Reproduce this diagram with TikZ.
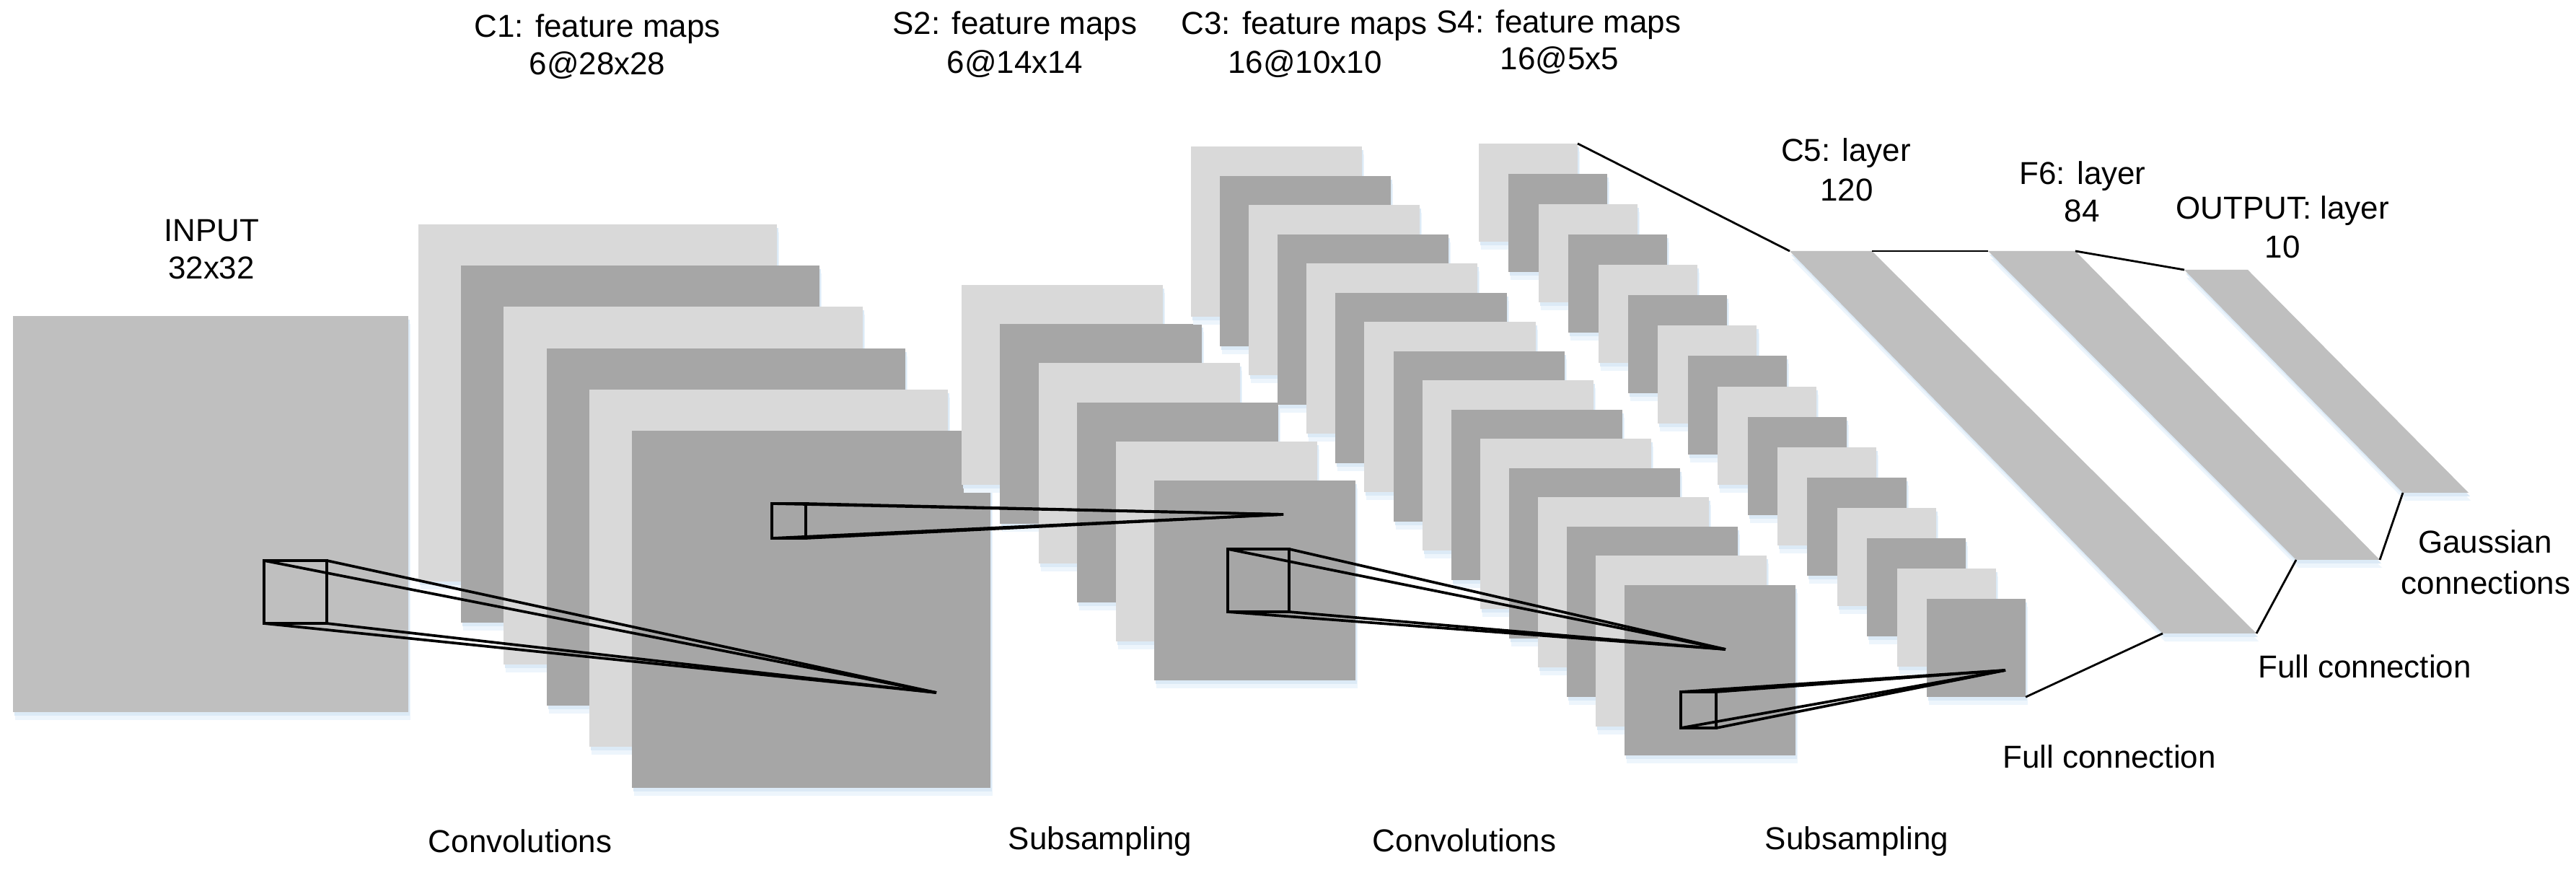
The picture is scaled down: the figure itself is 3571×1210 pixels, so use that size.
\documentclass[tikz,border=0pt]{standalone}
\usepackage{fontspec}
\setmainfont{Liberation Sans}
\definecolor{lightmap}{HTML}{D9D9D9}
\definecolor{darkmap}{HTML}{A6A6A6}
\definecolor{midmap}{HTML}{BFBFBF}
\definecolor{shadowA}{HTML}{EDF5FC}
\definecolor{shadowB}{HTML}{DCEAF6}
\tikzset{
  shadowed/.style={
    preaction={fill=shadowA, draw=none, transform canvas={shift={(0.03cm,-0.11cm)}}},
    preaction={fill=shadowB, draw=none, transform canvas={shift={(0.02cm,-0.05cm)}}}},
  fmap/.style={shadowed, draw=none, inner sep=0pt, outer sep=0pt, anchor=north west},
  kbox/.style={draw=black, line width=0.95pt, inner sep=0pt, outer sep=0pt, anchor=north west},
  kern/.style={line width=1.05pt},
  conn/.style={line width=0.8pt},
  lbl/.style={font=\fontsize{12.5}{15}\selectfont, anchor=base, inner sep=0pt}
}
\begin{document}
\begin{tikzpicture}[x=0.01cm, y=-0.01cm]
\useasboundingbox (0,0) rectangle (3571,1210);
\fill[white] (0,0) rectangle (3571,1210);

% INPUT
\node[fmap, fill=midmap, minimum width=5.48cm, minimum height=5.49cm] (input) at (18,438) {};

% C1 feature maps
\foreach \i in {0,...,5} {
  \pgfmathsetmacro\mx{580+59.2*\i}
  \pgfmathsetmacro\my{311+57.2*\i}
  \ifodd\i \def\mc{darkmap}\else \def\mc{lightmap}\fi
  \node[fmap, fill=\mc, minimum width=4.97cm, minimum height=4.95cm] (c1-\i) at (\mx,\my) {};
}
% S2 feature maps
\foreach \i in {0,...,5} {
  \pgfmathsetmacro\mx{1333+53.4*\i}
  \pgfmathsetmacro\my{395+54.2*\i}
  \ifodd\i \def\mc{darkmap}\else \def\mc{lightmap}\fi
  \node[fmap, fill=\mc, minimum width=2.79cm, minimum height=2.77cm] (s2-\i) at (\mx,\my) {};
}
% C3 feature maps
\foreach \i in {0,...,15} {
  \pgfmathsetmacro\mx{1651+40.07*\i}
  \pgfmathsetmacro\my{203+40.53*\i}
  \ifodd\i \def\mc{darkmap}\else \def\mc{lightmap}\fi
  \node[fmap, fill=\mc, minimum width=2.37cm, minimum height=2.36cm] (c3-\i) at (\mx,\my) {};
}
% S4 feature maps
\foreach \i in {0,...,15} {
  \pgfmathsetmacro\mx{2050+41.4*\i}
  \pgfmathsetmacro\my{199+42.07*\i}
  \ifodd\i \def\mc{darkmap}\else \def\mc{lightmap}\fi
  \node[fmap, fill=\mc, minimum width=1.37cm, minimum height=1.36cm] (s4-\i) at (\mx,\my) {};
}

% C5, F6, OUTPUT layers
\coordinate (c5tl) at (2481,348); \coordinate (c5tr) at (2595,348);
\coordinate (c5br) at (3128,878); \coordinate (c5bl) at (2998,878);
\coordinate (f6tl) at (2756,348); \coordinate (f6tr) at (2877,348);
\coordinate (f6br) at (3299,776); \coordinate (f6bl) at (3183,776);
\coordinate (outtl) at (3028,374); \coordinate (outtr) at (3116,374);
\coordinate (outbr) at (3422,683); \coordinate (outbl) at (3331,683);
\fill[midmap, shadowed] (c5tl) -- (c5tr) -- (c5br) -- (c5bl) -- cycle;
\fill[midmap, shadowed] (f6tl) -- (f6tr) -- (f6br) -- (f6bl) -- cycle;
\fill[midmap, shadowed] (outtl) -- (outtr) -- (outbr) -- (outbl) -- cycle;

% kernels
\node[kbox, minimum width=0.87cm, minimum height=0.87cm] (k1) at (366,777) {};
\node[kbox, minimum width=0.47cm, minimum height=0.48cm] (k2) at (1070,698) {};
\node[kbox, minimum width=0.85cm, minimum height=0.87cm] (k3) at (1702,761) {};
\node[kbox, minimum width=0.49cm, minimum height=0.50cm] (k4) at (2330,959) {};
\coordinate (a1) at (1298,960);
\coordinate (a2) at (1779,713);
\coordinate (a3) at (2392,900);
\coordinate (a4) at (2780,929);
\foreach \c in {north west, north east, south west, south east} {
  \draw[kern] (k1.\c) -- (a1);
  \draw[kern] (k2.\c) -- (a2);
  \draw[kern] (k3.\c) -- (a3);
  \draw[kern] (k4.\c) -- (a4);
}

% connections
\draw[conn] (s4-0.north east) -- (c5tl);
\draw[conn] (c5tr) -- (f6tl);
\draw[conn] (f6tr) -- (outtl);
\draw[conn] (s4-15.south east) -- (c5bl);
\draw[conn] (c5br) -- (f6bl);
\draw[conn] (f6br) -- (outbl);

% labels
\node[lbl] (tin1) at (293,335) {INPUT};
\node[lbl] (tin2) at (293,387) {32x32};
\node[lbl] (tc1a) at (828,52) {C1: feature maps};
\node[lbl] (tc1b) at (828,104) {6@28x28};
\node[lbl] (ts2a) at (1407,48) {S2: feature maps};
\node[lbl] (ts2b) at (1407,102) {6@14x14};
\node[lbl] (tc3a) at (1808,48) {C3: feature maps};
\node[lbl] (tc3b) at (1809,102) {16@10x10};
\node[lbl] (ts4a) at (2161,46) {S4: feature maps};
\node[lbl] (ts4b) at (2162,97) {16@5x5};
\node[lbl] (tc5a) at (2559,224) {C5: layer};
\node[lbl] (tc5b) at (2560,279) {120};
\node[lbl] (tf6a) at (2887,256) {F6: layer};
\node[lbl] (tf6b) at (2886,308) {84};
\node[lbl] (touta) at (3164,304) {OUTPUT: layer};
\node[lbl] (toutb) at (3164,358) {10};
\node[lbl] (tga) at (3445,767) {Gaussian};
\node[lbl] (tgb) at (3446,824) {connections};
\node[lbl] (tfc1) at (3278,940) {Full connection};
\node[lbl] (tfc2) at (2924,1065) {Full connection};
\node[lbl] (tconv1) at (721,1182) {Convolutions};
\node[lbl] (tsub1) at (1525,1178) {Subsampling};
\node[lbl] (tconv2) at (2030,1181) {Convolutions};
\node[lbl] (tsub2) at (2574,1178) {Subsampling};
\end{tikzpicture}
\end{document}
